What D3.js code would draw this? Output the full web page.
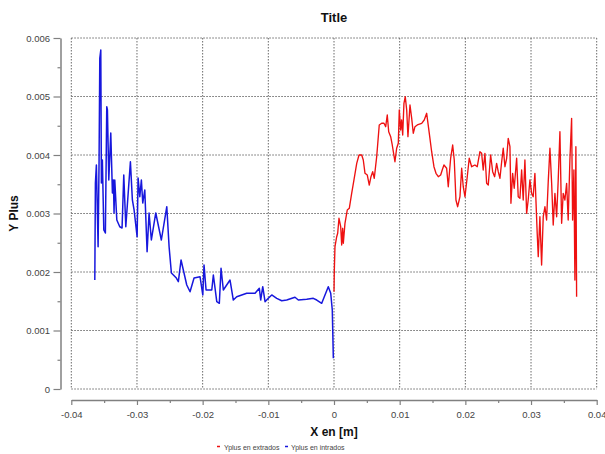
<!DOCTYPE html>
<html>
<head>
<meta charset="utf-8">
<script src="https://cdn.jsdelivr.net/npm/d3@7/dist/d3.min.js"></script>
<style>
  html, body { margin: 0; padding: 0; background: #fff; }
  svg { display: block; font-family: "Liberation Sans", Arial, sans-serif; }
</style>
</head>
<body>
<svg id="chart" width="605" height="454"></svg>
<script>
// Tick values and labels
const xTicks = [-0.04, -0.03, -0.02, -0.01, 0, 0.01, 0.02, 0.03, 0.04];
const xTickLabels = ["-0.04", "-0.03", "-0.02", "-0.01", "0", "0.01", "0.02", "0.03", "0.04"];
const yTicks = [0, 0.001, 0.002, 0.003, 0.004, 0.005, 0.006];
const yTickLabels = ["0", "0.001", "0.002", "0.003", "0.004", "0.005", "0.006"];

// Series names
const seriesNames = ["Yplus en extrados", "Yplus en intrados"];

// Intrados (lower surface), x in m
const intradosX = [
  -0.03642,-0.03633,-0.03618,-0.03592,-0.03577,-0.03566,-0.03551,-0.03542,-0.03527,-0.03505,
  -0.03481,-0.03460,-0.03450,-0.03429,-0.03399,-0.03374,-0.03359,-0.03349,-0.03338,-0.03307,
  -0.03262,-0.03227,-0.03201,-0.03170,-0.03100,-0.03070,-0.03044,-0.02998,-0.02983,-0.02957,
  -0.02933,-0.02912,-0.02881,-0.02846,-0.02816,-0.02781,-0.02714,-0.02629,-0.02546,-0.02511,
  -0.02476,-0.02400,-0.02370,-0.02329,-0.02242,-0.02192,-0.02131,-0.02040,-0.01998,-0.01979,
  -0.01948,-0.01861,-0.01837,-0.01785,-0.01746,-0.01720,-0.01685,-0.01583,-0.01533,-0.01481,
  -0.01329,-0.01202,-0.01137,-0.01116,-0.01085,-0.01050,-0.01000,-0.00948,-0.00872,-0.00796,
  -0.00720,-0.00594,-0.00543,-0.00416,-0.00315,-0.00263,-0.00187,-0.00087,-0.00050,-0.00026,
  -0.00010
];
const intradosY = [
  1.863e-3,3.521e-3,3.829e-3,2.432e-3,3.915e-3,5.653e-3,5.795e-3,3.521e-3,3.915e-3,2.718e-3,
  2.667e-3,4.826e-3,4.769e-3,3.573e-3,4.376e-3,3.350e-3,3.573e-3,3.009e-3,3.573e-3,2.889e-3,
  2.774e-3,2.752e-3,3.658e-3,2.774e-3,3.885e-3,3.231e-3,3.060e-3,2.603e-3,3.607e-3,3.287e-3,
  3.573e-3,3.179e-3,3.402e-3,2.347e-3,3.009e-3,2.547e-3,3.009e-3,2.547e-3,3.116e-3,2.432e-3,
  1.983e-3,1.897e-3,1.834e-3,2.205e-3,1.778e-3,1.663e-3,1.897e-3,1.920e-3,1.607e-3,2.120e-3,
  1.692e-3,1.692e-3,1.949e-3,1.492e-3,1.465e-3,2.063e-3,1.692e-3,1.863e-3,1.521e-3,1.578e-3,
  1.636e-3,1.636e-3,1.721e-3,1.521e-3,1.749e-3,1.492e-3,1.550e-3,1.607e-3,1.550e-3,1.509e-3,
  1.521e-3,1.568e-3,1.521e-3,1.533e-3,1.550e-3,1.521e-3,1.465e-3,1.749e-3,1.636e-3,1.350e-3,
  0.525e-3
];

// Extrados (upper surface), x in m
const extradosX = [
  0.00000,0.00005,0.00015,0.00041,0.00056,0.00076,0.00102,0.00117,0.00132,0.00142,
  0.00167,0.00202,0.00233,0.00269,0.00304,0.00346,0.00381,0.00422,0.00446,0.00472,
  0.00507,0.00537,0.00563,0.00589,0.00613,0.00650,0.00689,0.00726,0.00761,0.00787,
  0.00811,0.00833,0.00863,0.00887,0.00928,0.00954,0.00979,0.00994,0.01015,0.01030,
  0.01046,0.01065,0.01085,0.01107,0.01126,0.01157,0.01183,0.01207,0.01233,0.01268,
  0.01335,0.01374,0.01411,0.01451,0.01487,0.01522,0.01553,0.01588,0.01624,0.01648,
  0.01674,0.01715,0.01740,0.01776,0.01807,0.01831,0.01857,0.01883,0.01918,0.01944,
  0.01968,0.01994,0.02029,0.02059,0.02096,0.02146,0.02181,0.02222,0.02248,0.02272,
  0.02298,0.02324,0.02349,0.02385,0.02416,0.02446,0.02476,0.02501,0.02527,0.02553,
  0.02577,0.02603,0.02629,0.02653,0.02679,0.02694,0.02720,0.02744,0.02781,0.02805,
  0.02831,0.02857,0.02881,0.02907,0.02933,0.02957,0.02983,0.03009,0.03033,0.03059,
  0.03094,0.03110,0.03135,0.03161,0.03186,0.03212,0.03237,0.03262,0.03288,0.03314,
  0.03338,0.03364,0.03390,0.03414,0.03440,0.03466,0.03490,0.03516,0.03542,0.03566,
  0.03592,0.03618,0.03633,0.03653,0.03668,0.03683,0.03694
];
const extradosY = [
  1.663e-3,2.034e-3,2.432e-3,2.603e-3,2.662e-3,2.918e-3,2.774e-3,2.462e-3,2.747e-3,2.491e-3,
  2.832e-3,3.060e-3,3.089e-3,3.345e-3,3.573e-3,3.858e-3,4.000e-3,4.000e-3,3.915e-3,3.687e-3,
  3.658e-3,3.487e-3,3.629e-3,3.715e-3,3.602e-3,3.971e-3,4.513e-3,4.542e-3,4.542e-3,4.484e-3,
  4.684e-3,4.398e-3,4.313e-3,4.171e-3,3.885e-3,4.115e-3,4.200e-3,4.769e-3,4.427e-3,4.598e-3,
  4.342e-3,4.884e-3,4.997e-3,4.769e-3,4.313e-3,4.855e-3,4.627e-3,4.371e-3,4.484e-3,4.513e-3,
  4.542e-3,4.598e-3,4.713e-3,4.371e-3,4.056e-3,3.800e-3,3.687e-3,3.629e-3,3.658e-3,3.744e-3,
  3.829e-3,3.773e-3,3.458e-3,3.944e-3,4.171e-3,3.915e-3,3.231e-3,3.116e-3,3.287e-3,3.773e-3,
  3.458e-3,3.287e-3,3.629e-3,3.944e-3,3.800e-3,3.829e-3,3.800e-3,4.056e-3,4.029e-3,3.744e-3,
  4.029e-3,3.516e-3,3.487e-3,4.000e-3,3.715e-3,3.629e-3,3.858e-3,3.715e-3,3.602e-3,3.885e-3,
  4.115e-3,3.800e-3,3.944e-3,4.285e-3,4.142e-3,3.174e-3,3.687e-3,3.431e-3,3.944e-3,3.287e-3,
  3.260e-3,3.744e-3,3.231e-3,3.915e-3,3.003e-3,3.231e-3,3.573e-3,3.345e-3,3.287e-3,3.687e-3,
  2.662e-3,2.262e-3,2.945e-3,2.120e-3,2.945e-3,3.116e-3,2.889e-3,3.544e-3,4.115e-3,3.516e-3,
  2.803e-3,3.345e-3,2.945e-3,3.573e-3,4.398e-3,2.832e-3,3.345e-3,3.231e-3,3.516e-3,2.889e-3,
  3.915e-3,4.627e-3,2.889e-3,3.744e-3,1.863e-3,4.142e-3,1.578e-3
];

const extradosColor = "#ee1111";
const intradosColor = "#1717dd";

const svg = d3.select("#chart");

// Plot geometry
const plot = { left: 71.3, right: 596.7, top: 38, bottom: 389 };
const yAxisX = 60.5;
const xAxisY = 400;

const x = d3.scaleLinear().domain([-0.04, 0.04]).range([plot.left, plot.right]);
const y = d3.scaleLinear().domain([0, 0.006]).range([plot.bottom, plot.top]);

svg.append("rect").attr("width", 605).attr("height", 454).attr("fill", "#fff");

// Dotted grid
const grid = svg.append("g")
  .attr("stroke", "#6a6a6a")
  .attr("stroke-width", 1)
  .attr("stroke-dasharray", "1.5,1.5");
grid.selectAll("line.h").data(yTicks).join("line")
  .attr("class", "h")
  .attr("x1", plot.left).attr("x2", plot.right)
  .attr("y1", d => y(d)).attr("y2", d => y(d));
grid.selectAll("line.v").data(xTicks).join("line")
  .attr("class", "v")
  .attr("x1", d => x(d)).attr("x2", d => x(d))
  .attr("y1", plot.top).attr("y2", plot.bottom);

// Minor ticks halfway between the labelled ones
const xMinor = d3.range(-0.035, 0.04, 0.01);
const yMinor = d3.range(0.0005, 0.006, 0.001);

function styleAxis(g) {
  g.select(".domain").attr("stroke", "#808080").attr("stroke-width", 1.5);
  g.selectAll(".tick line").attr("stroke", "#808080").attr("stroke-width", 1.2);
  g.selectAll(".tick text").attr("fill", "#444").attr("font-size", "9.5px");
}

// Y axis
const yAxis = svg.append("g")
  .attr("transform", `translate(${yAxisX},0)`)
  .call(d3.axisLeft(y).tickValues(yTicks).tickSize(7).tickSizeOuter(0).tickPadding(3.5)
    .tickFormat((d, i) => yTickLabels[i]));
yAxis.attr("font-family", null);
styleAxis(yAxis);
svg.append("g")
  .attr("transform", `translate(${yAxisX},0)`)
  .call(d3.axisLeft(y).tickValues(yMinor).tickSize(3).tickSizeOuter(0).tickFormat(""))
  .call(g => { g.select(".domain").remove(); g.selectAll(".tick line").attr("stroke", "#808080").attr("stroke-width", 1.2); });

// X axis
const xAxis = svg.append("g")
  .attr("transform", `translate(0,${xAxisY})`)
  .call(d3.axisBottom(x).tickValues(xTicks).tickSize(5).tickSizeOuter(0).tickPadding(6)
    .tickFormat((d, i) => xTickLabels[i]));
xAxis.attr("font-family", null);
styleAxis(xAxis);
svg.append("g")
  .attr("transform", `translate(0,${xAxisY})`)
  .call(d3.axisBottom(x).tickValues(xMinor).tickSize(3).tickSizeOuter(0).tickFormat(""))
  .call(g => { g.select(".domain").remove(); g.selectAll(".tick line").attr("stroke", "#808080").attr("stroke-width", 1.2); });

// Series lines
const line = d3.line().x(d => x(d[0])).y(d => y(d[1]));
const intrados = intradosX.map((v, i) => [v, intradosY[i]]);
const extrados = extradosX.map((v, i) => [v, extradosY[i]]);

svg.append("path").datum(intrados)
  .attr("d", line).attr("fill", "none")
  .attr("stroke", intradosColor).attr("stroke-width", 1.5).attr("stroke-linejoin", "round");
svg.append("path").datum(extrados)
  .attr("d", line).attr("fill", "none")
  .attr("stroke", extradosColor).attr("stroke-width", 1.35).attr("stroke-linejoin", "round");

// Titles
svg.append("text")
  .attr("x", (plot.left + plot.right) / 2).attr("y", 21.5)
  .attr("text-anchor", "middle").attr("font-weight", "bold").attr("font-size", "13px")
  .attr("fill", "#111").text("Title");
svg.append("text")
  .attr("x", (plot.left + plot.right) / 2).attr("y", 435.5)
  .attr("text-anchor", "middle").attr("font-weight", "bold").attr("font-size", "12px")
  .attr("fill", "#111").text("X en [m]");
svg.append("text")
  .attr("transform", `translate(17.5,${(plot.top + plot.bottom) / 2}) rotate(-90)`)
  .attr("text-anchor", "middle").attr("font-weight", "bold").attr("font-size", "12px")
  .attr("fill", "#111").text("Y Plus");

// Legend
const legendItems = [
  { name: seriesNames[0], color: extradosColor, mx: 217, tx: 224 },
  { name: seriesNames[1], color: intradosColor, mx: 285, tx: 291 }
];
const legend = svg.append("g");
legend.selectAll("line").data(legendItems).join("line")
  .attr("x1", d => d.mx).attr("x2", d => d.mx + 3)
  .attr("y1", 446.5).attr("y2", 446.5)
  .attr("stroke", d => d.color).attr("stroke-width", 1.5);
legend.selectAll("text").data(legendItems).join("text")
  .attr("x", d => d.tx).attr("y", 449.5)
  .attr("font-size", "7px").attr("fill", "#444")
  .text(d => d.name);
</script>
</body>
</html>
